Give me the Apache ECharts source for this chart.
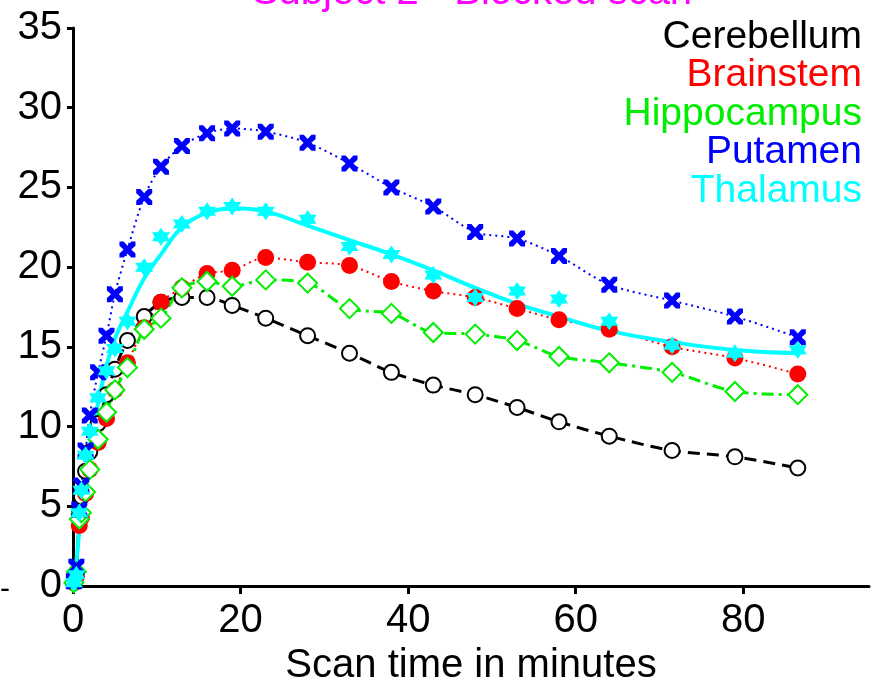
<!DOCTYPE html>
<html>
<head>
<meta charset="utf-8">
<script src="https://cdn.jsdelivr.net/npm/echarts@6/dist/echarts.min.js"></script>
<style>
  html, body { margin: 0; padding: 0; background: #fff; }
  #chart { width: 871px; height: 683px; }
</style>
</head>
<body>
<div id="chart"></div>
<script>
// scan frame mid times (minutes)
const times = [0.1, 0.4, 0.75, 1, 1.5, 2, 3, 4, 5, 6.5, 8.5, 10.5, 13, 16, 19, 23, 28, 33, 38, 43, 48, 53, 58, 64, 71.5, 79, 86.5];

const cerebellum = [0.2, 0.8, 4.5, 5.6, 7.2, 8.4, 10.2, 12.0, 13.6, 15.4, 16.9, 17.8, 18.1, 18.1, 17.6, 16.8, 15.7, 14.6, 13.4, 12.6, 12.0, 11.2, 10.3, 9.4, 8.5, 8.1, 7.4];
const brainstem = [0.2, 0.6, 3.8, 4.3, 5.8, 7.3, 9.0, 10.5, 12.3, 14.0, 16.2, 17.8, 18.7, 19.6, 19.8, 20.6, 20.3, 20.1, 19.1, 18.5, 18.1, 17.4, 16.7, 16.1, 15.0, 14.3, 13.3];
const hippocampus = [0.2, 0.9, 4.2, 4.6, 5.9, 7.3, 9.2, 10.9, 12.3, 13.7, 16.1, 16.8, 18.7, 19.1, 18.8, 19.2, 19.0, 17.4, 17.1, 15.9, 15.8, 15.4, 14.4, 14.0, 13.4, 12.2, 12.0];
const putamen = [0.3, 1.2, 4.8, 6.3, 8.5, 10.7, 13.4, 15.7, 18.3, 21.1, 24.4, 26.3, 27.6, 28.4, 28.7, 28.5, 27.8, 26.5, 25.0, 23.8, 22.2, 21.8, 20.7, 18.9, 17.9, 16.9, 15.6];
const thalamus = [0.2, 0.7, 4.6, 6.0, 8.2, 9.7, 11.8, 13.5, 14.9, 16.6, 20.0, 21.9, 22.7, 23.5, 23.8, 23.5, 23.0, 21.3, 20.8, 19.5, 18.1, 18.5, 18.0, 16.6, 15.1, 14.6, 14.8];
// model fit drawn for thalamus
const thalamusFit = [0.3, 1.5, 3.5, 5.0, 7.0, 8.7, 11.5, 13.8, 15.5, 17.2, 19.3, 20.8, 22.5, 23.4, 23.7, 23.5, 22.6, 21.7, 20.8, 19.8, 18.7, 17.7, 16.9, 16.0, 15.3, 14.8, 14.6];

const names = ['Cerebellum', 'Brainstem', 'Hippocampus', 'Putamen', 'Thalamus'];
const colors = ['#000000', '#ff0000', '#00ee00', '#0000ff', '#00ffff'];

const FONT = '"Liberation Sans", Arial, sans-serif';
const crossPath = 'path://M0,0 L2.6,0 L5,2.6 L7.4,0 L10,0 L10,2.6 L7.4,5 L10,7.4 L10,10 L7.4,10 L5,7.4 L2.6,10 L0,10 L0,7.4 L2.6,5 L0,2.6 Z';
const starPath = 'path://M5,0 L6.5,2.5 L9.33,2.5 L8,5 L9.33,7.5 L6.5,7.5 L5,10 L3.5,7.5 L0.67,7.5 L2,5 L0.67,2.5 L3.5,2.5 Z';

function pairs(ys) {
  return times.map((t, i) => [t, ys[i]]);
}

const chart = echarts.init(document.getElementById('chart'));

const option = {
  backgroundColor: '#ffffff',
  animation: false,
  grid: { left: 73, right: 2, top: 28, bottom: 97, outerBoundsMode: 'none', containLabel: false },
  xAxis: {
    type: 'value',
    min: 0,
    max: 95,
    interval: 20,
    name: 'Scan time in minutes',
    nameLocation: 'middle',
    nameGap: 52,
    nameTextStyle: { fontFamily: FONT, fontSize: 40, color: '#000' },
    axisLine: { lineStyle: { color: '#000', width: 3 } },
    axisTick: { length: 8, lineStyle: { color: '#000', width: 3 } },
    axisLabel: { fontFamily: FONT, fontSize: 40, color: '#000', margin: 15, showMaxLabel: false },
    splitLine: { show: false }
  },
  yAxis: {
    type: 'value',
    min: 0,
    max: 35,
    interval: 5,
    axisLine: { show: true, lineStyle: { color: '#000', width: 3 } },
    axisTick: { show: true, length: 6, lineStyle: { color: '#000', width: 3 } },
    axisLabel: { fontFamily: FONT, fontSize: 40, color: '#000', margin: 11 },
    splitLine: { show: false }
  },
  graphic: [
    {
      type: 'text', x: 472, y: -7,
      style: { text: 'Subject 2 - Blocked scan', fill: '#ff00ff', font: '40px ' + FONT, textAlign: 'center', textVerticalAlign: 'middle' }
    },
    {
      type: 'text', x: 0, y: 590,
      style: { text: '-', fill: '#000', font: '30px ' + FONT, textVerticalAlign: 'middle' }
    }
  ].concat(names.map((n, i) => ({
    type: 'text',
    x: 862,
    y: 37 + i * 38.5,
    style: { text: n, fill: colors[i], font: '39px ' + FONT, textAlign: 'right', textVerticalAlign: 'middle' }
  }))),
  series: [
    {
      name: 'Cerebellum', type: 'line', data: pairs(cerebellum), smooth: 0.3,
      symbol: 'emptyCircle', symbolSize: 15,
      itemStyle: { color: colors[0], borderWidth: 3.5 },
      lineStyle: { color: colors[0], width: 3, type: [12, 7] }
    },
    {
      name: 'Brainstem', type: 'line', data: pairs(brainstem), smooth: 0.3,
      symbol: 'circle', symbolSize: 17,
      itemStyle: { color: colors[1] },
      lineStyle: { color: colors[1], width: 2, type: [2, 4] }
    },
    {
      name: 'Hippocampus', type: 'line', data: pairs(hippocampus), smooth: 0.3,
      symbol: 'emptyDiamond', symbolSize: 19,
      itemStyle: { color: colors[2], borderWidth: 3.5 },
      lineStyle: { color: colors[2], width: 3, type: [12, 5, 3, 5] }
    },
    {
      name: 'Putamen', type: 'line', data: pairs(putamen), smooth: 0.3,
      symbol: crossPath, symbolSize: 16,
      itemStyle: { color: colors[3] },
      lineStyle: { color: colors[3], width: 2, type: [2, 4] }
    },
    {
      name: 'Thalamus', type: 'line', data: pairs(thalamus),
      symbol: starPath, symbolSize: 18,
      itemStyle: { color: colors[4] },
      lineStyle: { width: 0, opacity: 0 }
    },
    {
      name: 'Thalamus fit', type: 'line', data: pairs(thalamusFit), smooth: 0.4,
      symbol: 'none',
      lineStyle: { color: colors[4], width: 4 }
    }
  ]
};

chart.setOption(option);
</script>
</body>
</html>
